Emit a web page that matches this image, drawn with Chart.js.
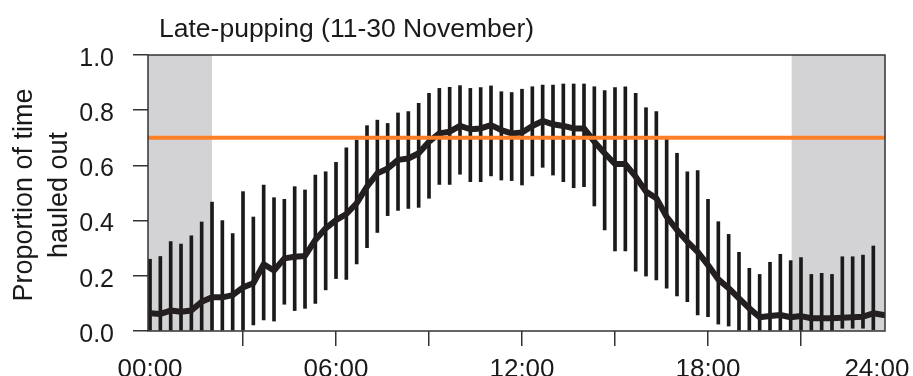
<!DOCTYPE html>
<html>
<head>
<meta charset="utf-8">
<script src="https://cdn.jsdelivr.net/npm/chart.js@4.4.1/dist/chart.umd.min.js"></script>
<style>
  html, body { margin: 0; padding: 0; background: #fff; }
</style>
</head>
<body>
<canvas id="chart" width="913" height="376"></canvas>
<script>
// time of day (20 min bins)
const times = [
    "00:00","00:20","00:40","01:00","01:20","01:40","02:00","02:20","02:40","03:00","03:20","03:40",
    "04:00","04:20","04:40","05:00","05:20","05:40","06:00","06:20","06:40","07:00","07:20","07:40",
    "08:00","08:20","08:40","09:00","09:20","09:40","10:00","10:20","10:40","11:00","11:20","11:40",
    "12:00","12:20","12:40","13:00","13:20","13:40","14:00","14:20","14:40","15:00","15:20","15:40",
    "16:00","16:20","16:40","17:00","17:20","17:40","18:00","18:20","18:40","19:00","19:20","19:40",
    "20:00","20:20","20:40","21:00","21:20","21:40","22:00","22:20","22:40","23:00","23:20","23:40"
];

// mean proportion of time hauled out
const meanHaulout = [
    0.064, 0.062, 0.074, 0.070, 0.074, 0.106, 0.122, 0.122, 0.130, 0.158, 0.173, 0.242,
    0.219, 0.263, 0.269, 0.272, 0.330, 0.372, 0.402, 0.424, 0.463, 0.523, 0.571, 0.589,
    0.620, 0.625, 0.644, 0.686, 0.716, 0.722, 0.743, 0.731, 0.734, 0.746, 0.728, 0.716,
    0.719, 0.743, 0.761, 0.749, 0.743, 0.734, 0.734, 0.686, 0.644, 0.605, 0.605, 0.559,
    0.505, 0.481, 0.414, 0.366, 0.324, 0.287, 0.239, 0.187, 0.155, 0.118, 0.082, 0.050,
    0.054, 0.058, 0.050, 0.054, 0.046, 0.046, 0.046, 0.048, 0.050, 0.052, 0.064, 0.058
];

// error bar ends (no bar drawn for the last bin)
const lowerBar = [
    0.000, 0.000, 0.000, 0.000, 0.000, 0.000, 0.000, 0.000, 0.000, 0.000, 0.022, 0.040,
    0.036, 0.097, 0.074, 0.082, 0.100, 0.149, 0.190, 0.187, 0.243, 0.302, 0.357, 0.418,
    0.437, 0.444, 0.448, 0.481, 0.531, 0.531, 0.568, 0.541, 0.541, 0.562, 0.547, 0.545,
    0.529, 0.562, 0.593, 0.565, 0.541, 0.519, 0.523, 0.453, 0.366, 0.290, 0.290, 0.217,
    0.199, 0.185, 0.155, 0.127, 0.106, 0.058, 0.052, 0.025, 0.018, 0.000, 0.000, 0.000,
    0.000, 0.000, 0.000, 0.000, 0.000, 0.000, 0.000, 0.010, 0.010, 0.010, 0.005, null
];
const upperBar = [
    0.260, 0.270, 0.324, 0.315, 0.345, 0.395, 0.467, 0.400, 0.353, 0.505, 0.413, 0.529,
    0.483, 0.477, 0.523, 0.511, 0.565, 0.577, 0.611, 0.664, 0.692, 0.744, 0.764, 0.752,
    0.790, 0.795, 0.825, 0.861, 0.879, 0.883, 0.889, 0.879, 0.882, 0.888, 0.867, 0.864,
    0.876, 0.885, 0.891, 0.891, 0.895, 0.895, 0.895, 0.885, 0.871, 0.882, 0.885, 0.861,
    0.809, 0.795, 0.704, 0.644, 0.577, 0.581, 0.477, 0.396, 0.350, 0.285, 0.227, 0.205,
    0.249, 0.278, 0.255, 0.266, 0.205, 0.209, 0.205, 0.269, 0.269, 0.275, 0.308, null
];

const threshold = 0.7;        // orange reference line
const darkEnd = 2.0;          // night shading, hours
const darkStart = 20.7;
const xMin = -0.065, xMax = 23.71;

// x axis ticks (hours) and labels
const xTickMarks = [3, 6, 9, 12, 15, 18, 21];
const xTickLabels = { 0: "00:00", 6: "06:00", 12: "12:00", 18: "18:00", 23.45: "24:00" };

const titleText = "Late-pupping (11-30 November)";
const yTitle = ["Proportion of time", "hauled out"];

const FONT = "'Liberation Sans', Arial, sans-serif";
const INK = "#1a1a1a";

function toHours(t) {
    return Number(t.slice(0, 2)) + Number(t.slice(3, 5)) / 60;
}
const hours = times.map(toHours);

// grey night shading behind the data
const shadePlugin = {
    id: 'shade',
    beforeDatasetsDraw(chart) {
        const {ctx, chartArea, scales} = chart;
        const x = scales.x;
        ctx.save();
        ctx.fillStyle = 'rgb(211,211,213)';
        const e = x.getPixelForValue(darkEnd);
        const s = x.getPixelForValue(darkStart);
        ctx.fillRect(chartArea.left, chartArea.top, e - chartArea.left, chartArea.bottom - chartArea.top);
        ctx.fillRect(s, chartArea.top, chartArea.right - s, chartArea.bottom - chartArea.top);
        ctx.restore();
    }
};

// box, title and rotated y title
const framePlugin = {
    id: 'frame',
    afterDraw(chart) {
        const {ctx, chartArea} = chart;
        ctx.save();
        ctx.strokeStyle = '#333';
        ctx.lineWidth = 1.5;
        ctx.strokeRect(chartArea.left, chartArea.top, chartArea.right - chartArea.left, chartArea.bottom - chartArea.top);

        ctx.fillStyle = INK;
        ctx.font = "26.5px " + FONT;
        ctx.textBaseline = 'alphabetic';
        ctx.textAlign = 'left';
        ctx.fillText(titleText, 159, 37);

        ctx.font = "27px " + FONT;
        ctx.textAlign = 'center';
        ctx.translate(0, 195);
        ctx.rotate(-Math.PI / 2);
        ctx.fillText(yTitle[0], 0, 32);
        ctx.fillText(yTitle[1], 0, 67);
        ctx.restore();
    }
};

const ctx = document.getElementById('chart').getContext('2d');
new Chart(ctx, {
    type: 'line',
    data: {
        datasets: [
            {
                type: 'line',
                data: [{x: xMin, y: threshold}, {x: xMax, y: threshold}],
                borderColor: 'rgb(255,127,39)',
                borderWidth: 4,
                pointRadius: 0,
                order: 1
            },
            {
                type: 'line',
                data: hours.map((h, i) => ({x: h, y: meanHaulout[i]})),
                borderColor: '#231f20',
                borderWidth: 6,
                borderJoinStyle: 'round',
                borderCapStyle: 'round',
                pointRadius: 0,
                tension: 0,
                order: 2
            },
            {
                type: 'bar',
                data: hours.map((h, i) => ({x: h, y: upperBar[i] === null ? null : [lowerBar[i], upperBar[i]]})),
                backgroundColor: '#1a1a1a',
                borderWidth: 0,
                barThickness: 3,
                order: 3
            }
        ]
    },
    options: {
        responsive: false,
        animation: false,
        layout: { padding: { top: 55, right: 28, bottom: 0, left: 0 } },
        plugins: {
            legend: { display: false },
            tooltip: { enabled: false },
            title: { display: false }
        },
        scales: {
            x: {
                type: 'linear',
                min: xMin,
                max: xMax,
                offset: false,
                border: { display: false },
                grid: {
                    offset: false,
                    drawOnChartArea: false,
                    drawTicks: true,
                    tickLength: 15,
                    lineWidth: 1.5,
                    tickColor: c => xTickMarks.includes(c.tick && c.tick.value) ? '#333' : 'rgba(0,0,0,0)'
                },
                afterBuildTicks: scale => {
                    scale.ticks = [0, 3, 6, 9, 12, 15, 18, 21, 23.45].map(v => ({value: v}));
                },
                afterFit: scale => {
                    scale.height = 45;
                    scale.paddingLeft = 0;
                    scale.paddingRight = 0;
                },
                ticks: {
                    autoSkip: false,
                    maxRotation: 0,
                    minRotation: 0,
                    padding: 8,
                    color: INK,
                    font: { family: FONT, size: 26 },
                    callback: v => xTickLabels[v] || ''
                }
            },
            y: {
                min: 0,
                max: 1,
                border: { display: false },
                grid: {
                    drawOnChartArea: false,
                    drawTicks: true,
                    tickLength: 15,
                    lineWidth: 1.5,
                    color: '#333'
                },
                afterFit: scale => { scale.width = 148; },
                ticks: {
                    stepSize: 0.2,
                    padding: 19,
                    labelOffset: 4,
                    color: INK,
                    font: { family: FONT, size: 25 },
                    callback: v => v.toFixed(1)
                }
            }
        }
    },
    plugins: [shadePlugin, framePlugin]
});
</script>
</body>
</html>
